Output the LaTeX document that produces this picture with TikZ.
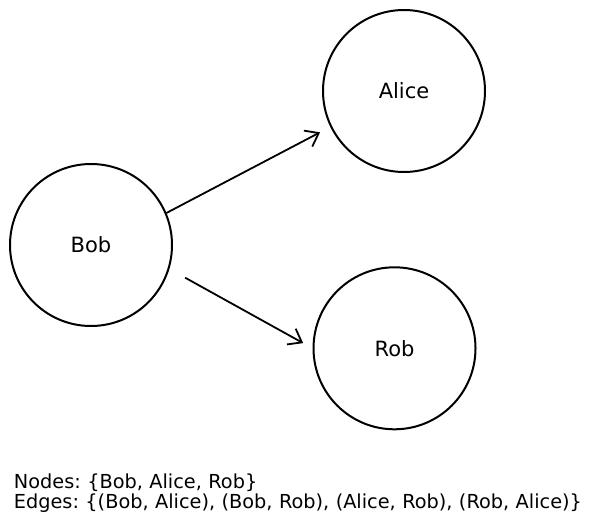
\documentclass[tikz,border=0pt]{standalone}
\usepackage{fontspec}
\setmainfont{DejaVu Sans}
\usepackage{tikz}
\usetikzlibrary{arrows.meta}
\frenchspacing
\tikzstyle{vertex} = [draw, circle, line width=2pt, minimum size=162pt, inner sep=0pt, font=\fontsize{21}{24}\selectfont]
\tikzstyle{plain} = [draw=none, inner sep=0pt, text width=580pt, align=left, text height=14pt, text depth=4pt, font=\fontsize{19.3}{20}\selectfont]

\begin{document}
\begin{tikzpicture}[x=1pt,y=-1pt,->,>={Straight Barb[length=12pt,width=18pt]},line width=1.8pt,node distance=313pt]
\useasboundingbox (0,0) rectangle (596,529);

\node[vertex] (bob) at (91,245) {Bob};
\node[vertex, right of = bob, yshift = 154pt] (alice) {Alice};
\node[vertex, right of = bob, xshift = -9.5pt, yshift = -103.3pt] (rob) {Rob};

\node[plain, anchor = base west] (nodeset) at (13,488) {Nodes: \{Bob, Alice, Rob\}};
\node[plain, node distance = 20pt, below of = nodeset] (edgeset) {Edges: \{(Bob, Alice), (Bob, Rob), (Alice, Rob), (Rob, Alice)\}};

\path
(bob.23.7) edge [shorten >=11.6pt] node {} (alice.206.9)
(bob.-17.3) edge [shorten <=18pt, shorten >=10.7pt] node {} (rob.180);

\end{tikzpicture}
\end{document}
